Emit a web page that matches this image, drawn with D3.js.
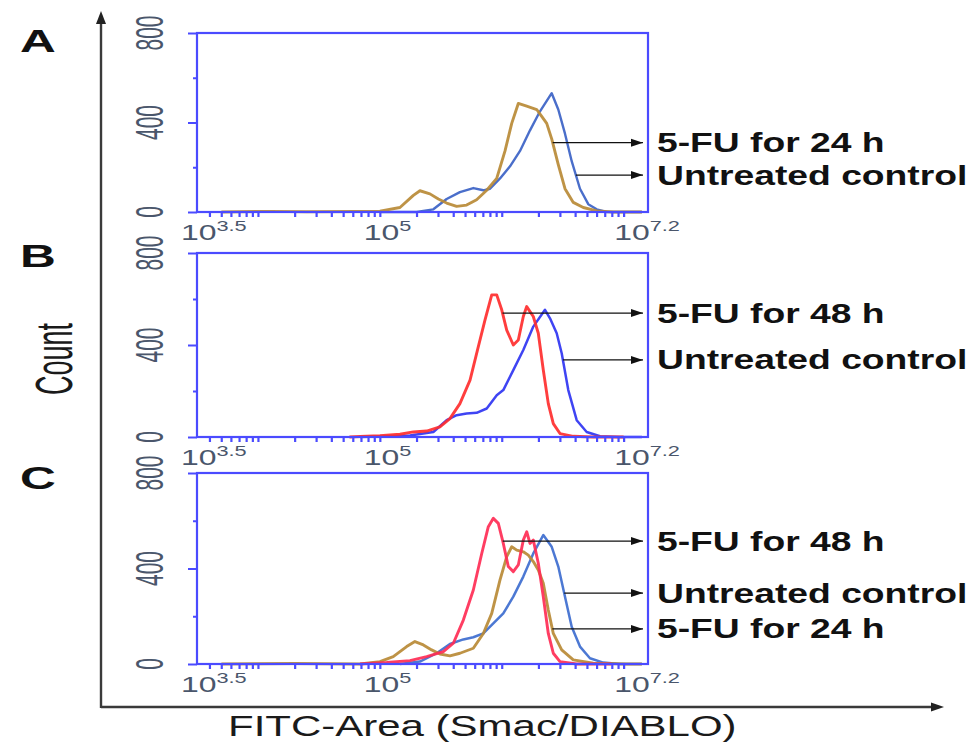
<!DOCTYPE html>
<html>
<head>
<meta charset="utf-8">
<script src="https://cdn.jsdelivr.net/npm/d3@7/dist/d3.min.js"></script>
<style>
  html, body { margin: 0; padding: 0; background: #ffffff; }
  svg { display: block; }
</style>
</head>
<body>
<svg id="chart" width="974" height="743"></svg>
<script>
// ---- Axis values -------------------------------------------------------
const xExpDomain = [3.5, 7.2];              // log10 of FITC-A
const xTickExps = [3.5, 5, 7.2];
const xTickBase = "10";
const xTickExpLabels = ["3.5", "5", "7.2"];
const yTickValues = [0, 400, 800];
const yMinorTickValues = [200, 600];
const panelLetters = ["A", "B", "C"];
const xAxisTitle = "FITC-Area (Smac/DIABLO)";
const yAxisTitle = "Count";

// ---- Histogram traces: [log10(FITC-A), count] -------------------------
const untreatedA = [[5.0,0],[5.302,0],[5.439,12],[5.548,58],[5.657,89],[5.767,107],[5.849,97],[5.904,104],
  [5.986,150],[6.068,204],[6.15,273],[6.232,365],[6.314,450],[6.41,531],[6.464,458],[6.519,350],[6.574,227],
  [6.642,104],[6.71,35],[6.779,12],[6.861,0],[7.15,0]];
const fu24A = [[3.7,0],[4.1,3],[4.4,1],[4.8,2],[5.001,4],[5.165,20],[5.275,74],[5.329,95],[5.411,81],[5.48,58],
  [5.548,40],[5.63,25],[5.712,31],[5.794,55],[5.877,97],[5.959,150],[6.027,273],[6.082,396],[6.136,485],
  [6.205,473],[6.287,458],[6.328,427],[6.369,396],[6.41,327],[6.464,212],[6.519,104],[6.587,43],[6.669,20],
  [6.779,5],[6.915,0],[7.15,0]];

const untreatedB = [[4.837,0],[5.247,7],[5.439,22],[5.548,73],[5.63,95],[5.712,102],[5.794,105],[5.877,124],
  [5.959,182],[6.013,204],[6.095,291],[6.177,378],[6.259,480],[6.355,553],[6.396,516],[6.451,451],[6.492,364],
  [6.546,204],[6.615,73],[6.697,22],[6.806,3],[6.97,0],[7.15,0]];
const fu48B = [[4.75,0],[4.837,2],[5.001,6],[5.165,12],[5.275,22],[5.384,26],[5.493,44],[5.575,80],[5.657,145],
  [5.74,247],[5.808,393],[5.863,509],[5.918,618],[5.959,618],[6.0,553],[6.041,465],[6.095,400],[6.136,422],
  [6.177,524],[6.205,567],[6.232,545],[6.259,524],[6.3,451],[6.341,291],[6.382,145],[6.423,58],[6.478,15],
  [6.587,3],[6.751,0],[7.0,0]];

const untreatedC = [[5.165,0],[5.329,10],[5.466,45],[5.575,84],[5.685,103],[5.767,112],[5.849,128],[5.931,170],
  [6.013,212],[6.095,282],[6.177,366],[6.259,463],[6.341,540],[6.41,491],[6.464,408],[6.519,282],[6.574,156],
  [6.642,73],[6.724,24],[6.833,6],[6.97,0],[7.15,0]];
const fu24C = [[3.7,0],[4.3,2],[4.837,0],[5.001,10],[5.11,31],[5.22,73],[5.288,94],[5.357,80],[5.425,59],
  [5.493,42],[5.575,34],[5.657,45],[5.767,66],[5.849,128],[5.918,212],[5.986,352],[6.041,450],[6.082,491],
  [6.123,477],[6.177,470],[6.218,456],[6.259,429],[6.3,394],[6.341,338],[6.382,226],[6.423,128],[6.492,59],
  [6.587,17],[6.751,3],[7.025,0],[7.15,0]];
const fu48C = [[4.837,0],[5.056,6],[5.247,14],[5.384,31],[5.521,52],[5.603,87],[5.685,184],[5.767,310],
  [5.836,463],[5.89,575],[5.931,610],[5.972,589],[6.013,505],[6.054,408],[6.095,387],[6.136,415],[6.177,519],
  [6.205,554],[6.232,505],[6.259,519],[6.3,422],[6.341,282],[6.382,128],[6.423,45],[6.478,10],[6.615,0],[6.9,0]];

// ---- Annotation labels and the count level each arrow sits at ----------
const notesA = ["5-FU for 24 h", "Untreated control"];
const noteLevelsA = [310, 165];
const notesB = ["5-FU for 48 h", "Untreated control"];
const noteLevelsB = [539, 335];
const notesC = ["5-FU for 48 h", "Untreated control", "5-FU for 24 h"];
const noteLevelsC = [515, 297, 147];

// ---- Styling / layout ----------------------------------------------------
const FONT = "'Liberation Sans', Arial, Helvetica, sans-serif";
const FRAME = "#4b4bff";
const TICK_TEXT = "#4a566b";
const GOLD = "#b98a36", BLUE_A = "#3b62c6", RED_B = "#ff2e2e", BLUE_B = "#2f34f2",
      RED_C = "#ff2d55", BLUE_C = "#3d6ccf";
const box = { left: 197, right: 648 };
const arrowTip = 643, noteX = 657;

const panels = [
  { letter: panelLetters[0], letterY: 52, top: 33, bottom: 212,
    traces: [ { data: untreatedA, color: BLUE_A, w: 2.4 }, { data: fu24A, color: GOLD, w: 2.9 } ],
    notes: [ { text: notesA[0], level: noteLevelsA[0], trace: fu24A },
             { text: notesA[1], level: noteLevelsA[1], trace: untreatedA } ] },
  { letter: panelLetters[1], letterY: 267, top: 253, bottom: 437,
    traces: [ { data: untreatedB, color: BLUE_B, w: 2.5 }, { data: fu48B, color: RED_B, w: 2.9 } ],
    notes: [ { text: notesB[0], level: noteLevelsB[0], trace: fu48B },
             { text: notesB[1], level: noteLevelsB[1], trace: untreatedB } ] },
  { letter: panelLetters[2], letterY: 489, top: 473, bottom: 664,
    traces: [ { data: untreatedC, color: BLUE_C, w: 2.5 }, { data: fu24C, color: GOLD, w: 2.9 },
              { data: fu48C, color: RED_C, w: 2.9 } ],
    notes: [ { text: notesC[0], level: noteLevelsC[0], trace: fu48C },
             { text: notesC[1], level: noteLevelsC[1], trace: untreatedC },
             { text: notesC[2], level: noteLevelsC[2], trace: fu24C } ] }
];

const svg = d3.select("#chart");
const x = d3.scaleLog().domain(xExpDomain.map(e => 10 ** e)).range([box.left, box.right]);

// minor log ticks k·10^n inside the domain
const minorX = [];
for (let n = 3; n <= 7; n++) for (let k = 1; k <= 9; k++) {
  const v = k * 10 ** n;
  if (v > x.domain()[0] * 1.05 && v < x.domain()[1] * 0.97) minorX.push(v);
}

// where the falling flank (after the peak) drops through a given count
function flankExp(data, level) {
  let iMax = d3.maxIndex(data, d => d[1]);
  for (let i = iMax; i < data.length - 1; i++) {
    const a = data[i], b = data[i + 1];
    if (a[1] >= level && b[1] < level) {
      return a[0] + (b[0] - a[0]) * (a[1] - level) / (a[1] - b[1]);
    }
  }
  return data[iMax][0];
}

const defs = svg.append("defs");
defs.append("marker").attr("id", "head").attr("viewBox", "0 0 12 10")
  .attr("refX", 12).attr("refY", 5).attr("markerWidth", 12).attr("markerHeight", 10)
  .attr("markerUnits", "userSpaceOnUse").attr("orient", "auto")
  .append("path").attr("d", "M0,1 L12,5 L0,9 Z").attr("fill", "#111");

panels.forEach(p => {
  const y = d3.scaleLinear().domain([0, 800]).range([p.bottom, p.top]);
  const g = svg.append("g");

  // histogram traces
  const line = d3.line().x(d => x(10 ** d[0])).y(d => y(d[1]));
  p.traces.forEach(t => {
    g.append("path").datum(t.data).attr("d", line)
      .attr("fill", "none").attr("stroke", t.color).attr("stroke-width", t.w)
      .attr("stroke-linejoin", "round").attr("opacity", 0.92);
  });

  // frame
  g.append("rect").attr("x", box.left).attr("y", p.top)
    .attr("width", box.right - box.left).attr("height", p.bottom - p.top)
    .attr("fill", "none").attr("stroke", FRAME).attr("stroke-width", 2.2);

  // bottom axis ticks
  const xa = g.append("g").attr("transform", `translate(0,${p.bottom})`)
    .call(d3.axisBottom(x).tickValues(minorX).tickSize(5).tickFormat(""));
  xa.select(".domain").remove();
  xa.selectAll("line").attr("stroke", FRAME).attr("stroke-width", 2.2);

  // left axis ticks
  const ya = g.append("g").attr("transform", `translate(${box.left},0)`)
    .call(d3.axisLeft(y).tickValues(yTickValues).tickSize(9).tickFormat(""));
  ya.select(".domain").remove();
  ya.selectAll("line").attr("stroke", FRAME).attr("stroke-width", 2);
  const yb = g.append("g").attr("transform", `translate(${box.left},0)`)
    .call(d3.axisLeft(y).tickValues(yMinorTickValues).tickSize(4).tickFormat(""));
  yb.select(".domain").remove();
  yb.selectAll("line").attr("stroke", FRAME).attr("stroke-width", 2);

  // rotated count labels
  g.selectAll("text.ylab").data(yTickValues).join("text").attr("class", "ylab")
    .attr("transform", d => `translate(${box.left - 34},${y(d)}) scale(1.85,1) rotate(-90)`)
    .attr("text-anchor", "middle").attr("font-family", FONT).attr("font-size", 21)
    .attr("fill", TICK_TEXT).text(d => String(d));

  // x tick labels 10^e
  xTickExps.forEach((e, i) => {
    const t = g.append("text").attr("font-family", FONT).attr("fill", TICK_TEXT)
      .attr("font-size", 22);
    t.append("tspan").text(xTickBase);
    t.append("tspan").attr("font-size", 15).attr("dy", -9).text(xTickExpLabels[i]);
    const w = t.node().getComputedTextLength() * 1.45;
    const x0 = Math.min(x(10 ** e) - 16, box.right + 32 - w);
    t.attr("transform", `translate(${x0},${p.bottom + 28}) scale(1.45,1)`);
  });

  // panel letter
  svg.append("text").attr("transform", `translate(20,${p.letterY}) scale(1.6,1)`)
    .attr("font-family", FONT).attr("font-weight", "bold").attr("font-size", 31)
    .attr("fill", "#111").text(p.letter);

  // arrows and notes
  p.notes.forEach(n => {
    const yy = y(n.level);
    const x0 = x(10 ** flankExp(n.trace, n.level));
    g.append("line").attr("x1", x0).attr("x2", arrowTip).attr("y1", yy).attr("y2", yy)
      .attr("stroke", "#111").attr("stroke-width", 1.3).attr("marker-end", "url(#head)");
    g.append("text").attr("transform", `translate(${noteX},${yy + 9.5}) scale(1.38,1)`)
      .attr("font-family", FONT).attr("font-weight", "bold").attr("font-size", 27)
      .attr("fill", "#111").text(n.text);
  });
});

// outer axes with arrowheads
const outer = svg.append("g").attr("stroke", "#3a3a3a").attr("stroke-width", 2.4);
outer.append("line").attr("x1", 101).attr("y1", 708).attr("x2", 101).attr("y2", 22);
outer.append("line").attr("x1", 101).attr("y1", 707).attr("x2", 932).attr("y2", 707);
svg.append("path").attr("d", "M101,11 L96,24 L106,24 Z").attr("fill", "#222");
svg.append("path").attr("d", "M944,707 L931,702.5 L931,711.5 Z").attr("fill", "#222");

// axis titles
svg.append("text").attr("transform", "translate(228,736) scale(1.4,1)")
  .attr("font-family", FONT).attr("font-size", 30).attr("fill", "#1a1a1a").text(xAxisTitle);
svg.append("text").attr("transform", "translate(72,359) scale(1.9,1) rotate(-90)")
  .attr("text-anchor", "middle").attr("font-family", FONT).attr("font-size", 27)
  .attr("fill", "#1a1a1a").text(yAxisTitle);
</script>
</body>
</html>
